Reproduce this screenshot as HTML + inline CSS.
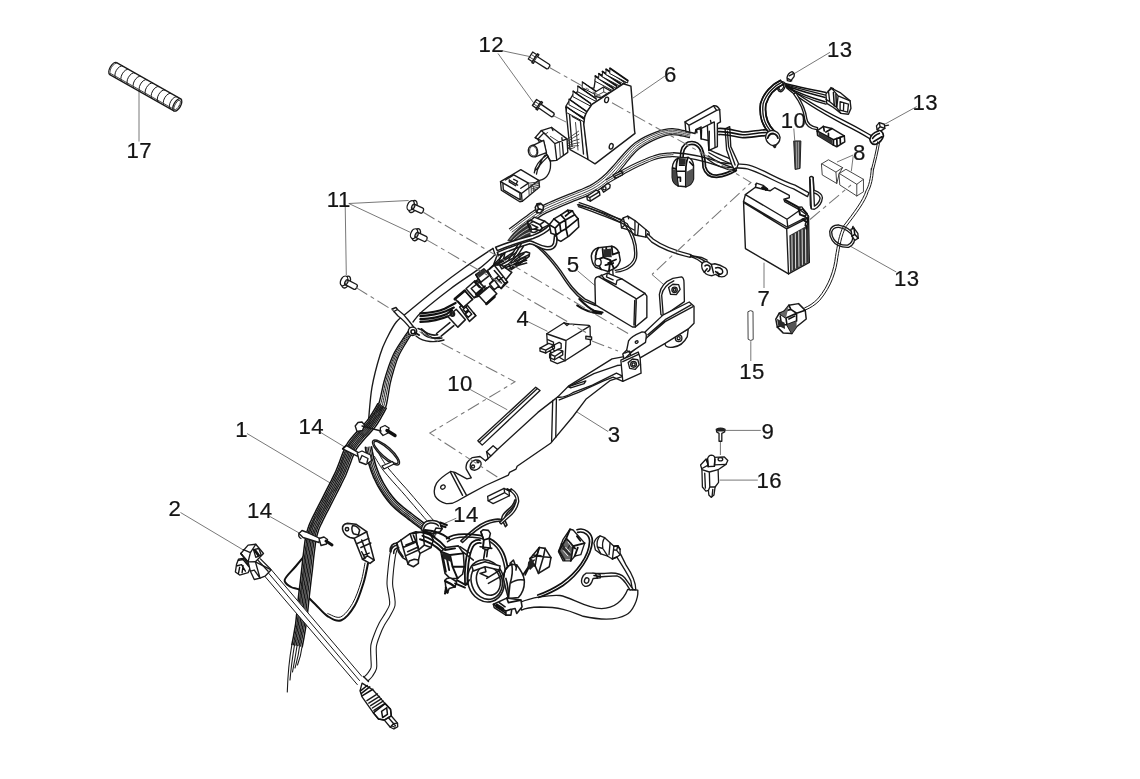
<!DOCTYPE html>
<html lang="en">
<head>
<meta charset="utf-8">
<title>Electrical system - wiring harness parts diagram</title>
<style>
html,body{margin:0;padding:0;background:#fff;}
body{width:1140px;height:779px;overflow:hidden;}
svg{display:block;filter:blur(.38px);}
.lbl text{font-family:"Liberation Sans",Arial,sans-serif;font-size:22.2px;letter-spacing:.4px;fill:#141414;stroke:#141414;stroke-width:.22px;}
.ld{stroke:#555;stroke-width:.8;fill:none;}
.dd{stroke:#777;stroke-width:1.05;fill:none;stroke-dasharray:13 4 4 4;}
.o{stroke:#1a1a1a;stroke-width:1.35;fill:none;stroke-linejoin:round;stroke-linecap:round;}
.of{stroke:#1a1a1a;stroke-width:1.35;fill:#fff;stroke-linejoin:round;stroke-linecap:round;}
.t{stroke:#333;stroke-width:.9;fill:none;stroke-linejoin:round;stroke-linecap:round;}
.tf{stroke:#333;stroke-width:.9;fill:#fff;stroke-linejoin:round;stroke-linecap:round;}
.h{stroke:#111;stroke-width:1.8;fill:none;stroke-linejoin:round;stroke-linecap:round;}
.k{fill:#222;stroke:none;}
#h10 .o,#h10 .of,#h03a .o,#h03a .of,#h07 .o,#h07 .of,#h02 .o,#h02 .of{stroke-width:1.55;}
.o,.of,.t,.tf,.h,.ld,.dd,.w,.wf{vector-effect:non-scaling-stroke;}
.w{stroke:#1a1a1a;stroke-width:1.1;fill:none;stroke-linejoin:round;stroke-linecap:round;}
</style>
</head>
<body>
<svg width="1140" height="779" viewBox="0 0 1140 779">
<rect width="1140" height="779" fill="#fff"/>


<!--LEADERS-->
<g id="leaders">
<path class="ld" d="M139 89V141.5"/>
<path class="ld" d="M502 50.7L529.5 56.5M498 53.5L533.5 102.7"/>
<path class="ld" d="M665 76L633 98"/>
<path class="ld" d="M830 52.3L794.3 73.6"/>
<path class="ld" d="M916.7 106.6L883.2 125.1"/>
<path class="ld" d="M793.8 128.5L794.7 140"/>
<path class="ld" d="M853.2 155L837 162M853.2 156L851.3 171.3"/>
<path class="ld" d="M764 262.7V288"/>
<path class="ld" d="M750.8 341.2V361"/>
<path class="ld" d="M896.3 272L850 246"/>
<path class="ld" d="M608.2 431.6L577 412"/>
<path class="ld" d="M470.2 389.5L507.3 409.8"/>
<path class="ld" d="M725 430.4H760.8"/>
<path class="ld" d="M719.7 480.1H757.8"/>
<path class="ld" d="M247 433.5L332.4 484.3"/>
<path class="ld" d="M320.4 432.3L346.3 448"/>
<path class="ld" d="M270.1 516.6L300.1 533.5"/>
<path class="ld" d="M180.5 512.5L243.5 550.1"/>
<path class="ld" d="M456.3 518.2L444.5 523.4"/>
<path class="ld" d="M577.6 270.8L594.7 285.3"/>
<path class="ld" d="M528.9 322.1L547.4 331.3"/>
</g>

<!-- h01 -->
<g id="h01">
<path d="M493.0 248.4C488.3 251.6 474.1 260.8 464.7 267.5C455.3 274.2 445.9 281.3 436.5 288.7C427.1 296.1 412.8 308.1 408.0 312.0L413.0 322.0C414.6 320.2 416.1 316.9 422.4 311.3C428.7 305.8 441.2 295.8 450.6 288.7C460.0 281.6 471.5 274.5 478.9 268.9C486.3 263.2 492.4 257.1 495.1 254.8Z" fill="#fff" stroke="none"/>
<path class="o" d="M493.0 248.4C488.3 251.6 474.1 260.8 464.7 267.5C455.3 274.2 445.9 281.3 436.5 288.7C427.1 296.1 414.7 306.4 408.0 312.0C401.3 317.6 399.8 317.7 396.3 322.0C392.8 326.3 389.7 332.6 387.0 338.0C384.3 343.4 382.6 346.5 380.1 354.7C377.6 362.9 373.9 376.3 372.0 387.1C370.1 397.9 369.2 414.1 368.6 419.5"/>
<path class="o" d="M495.1 254.8C492.4 257.1 486.3 263.2 478.9 268.9C471.5 274.5 460.0 281.6 450.6 288.7C441.2 295.8 428.7 305.8 422.4 311.3C416.1 316.9 414.6 320.2 413.0 322.0"/>
<path class="o" d="M493 248.4L495.1 254.8"/>
<path d="M397.5 549.2C397.4 549.5 397.0 549.9 396.6 551.1C396.2 552.3 395.8 553.4 395.3 556.4C394.8 559.5 394.1 564.9 393.6 569.5C393.2 574.0 392.5 579.7 392.6 583.9C392.7 588.1 393.9 591.1 394.3 594.7C394.7 598.3 395.7 602.0 395.0 605.5C394.3 609.1 391.9 612.6 390.1 616.0C388.3 619.3 385.9 622.3 384.2 625.6C382.4 628.9 380.9 632.5 379.6 636.0C378.3 639.4 376.9 642.8 376.4 646.4C375.9 650.0 376.5 653.9 376.5 657.6C376.5 661.3 377.2 665.5 376.5 668.6C375.8 671.7 373.6 674.4 372.2 676.5C370.8 678.5 368.7 680.2 368.0 680.9L364.0 677.1C364.6 676.4 366.4 674.9 367.6 673.3C368.8 671.6 370.5 670.0 371.1 667.4C371.6 664.8 370.9 661.3 370.9 657.7C370.8 654.1 370.3 649.5 370.8 645.6C371.4 641.6 373.0 637.8 374.4 634.0C375.8 630.2 377.4 626.5 379.2 623.0C381.0 619.5 383.5 616.3 385.2 613.3C386.9 610.2 389.0 607.4 389.6 604.5C390.1 601.5 389.2 598.8 388.8 595.4C388.3 592.0 387.1 588.5 387.0 584.1C386.9 579.7 387.6 573.7 388.1 568.9C388.5 564.2 389.2 558.8 389.7 555.6C390.3 552.3 390.8 550.9 391.2 549.4C391.7 548.0 392.3 547.2 392.5 546.8Z" fill="#fff" stroke="none"/><path class="o" style="stroke-width:1.1" d="M397.5 549.2C397.4 549.5 397.0 549.9 396.6 551.1C396.2 552.3 395.8 553.4 395.3 556.4C394.8 559.5 394.1 564.9 393.6 569.5C393.2 574.0 392.5 579.7 392.6 583.9C392.7 588.1 393.9 591.1 394.3 594.7C394.7 598.3 395.7 602.0 395.0 605.5C394.3 609.1 391.9 612.6 390.1 616.0C388.3 619.3 385.9 622.3 384.2 625.6C382.4 628.9 380.9 632.5 379.6 636.0C378.3 639.4 376.9 642.8 376.4 646.4C375.9 650.0 376.5 653.9 376.5 657.6C376.5 661.3 377.2 665.5 376.5 668.6C375.8 671.7 373.6 674.4 372.2 676.5C370.8 678.5 368.7 680.2 368.0 680.9M392.5 546.8C392.3 547.2 391.7 548.0 391.2 549.4C390.8 550.9 390.3 552.3 389.7 555.6C389.2 558.8 388.5 564.2 388.1 568.9C387.6 573.7 386.9 579.7 387.0 584.1C387.1 588.5 388.3 592.0 388.8 595.4C389.2 598.8 390.1 601.5 389.6 604.5C389.0 607.4 386.9 610.2 385.2 613.3C383.5 616.3 381.0 619.5 379.2 623.0C377.4 626.5 375.8 630.2 374.4 634.0C373.0 637.8 371.4 641.6 370.8 645.6C370.3 649.5 370.8 654.1 370.9 657.7C370.9 661.3 371.6 664.8 371.1 667.4C370.5 670.0 368.8 671.6 367.6 673.3C366.4 674.9 364.6 676.4 364.0 677.1"/>
<path class="o" d="M363.5 676.5L368.5 681.5"/>
<path class="h" style="stroke-width:2" d="M309.0 550.0C306.8 552.7 300.1 561.0 296.0 566.0C291.9 571.0 285.5 576.4 284.7 579.9C283.9 583.4 288.3 585.2 291.0 587.0C293.7 588.8 296.9 587.8 300.9 590.6C304.9 593.4 310.5 599.7 315.0 604.0C319.5 608.3 323.4 613.6 327.8 616.3C332.2 619.0 336.8 622.1 341.3 620.3C345.8 618.5 351.1 611.7 354.8 605.5C358.5 599.3 361.3 590.0 363.5 583.0C365.7 576.0 367.2 566.8 368.0 563.5"/>
<path class="o" style="stroke-width:1" d="M327.8 613.5C329.9 614.1 336.4 618.7 340.5 617.0C344.6 615.3 349.1 609.3 352.5 603.5C355.9 597.7 358.9 588.8 361.0 582.0C363.1 575.2 364.3 566.2 365.0 563.0"/>
<path d="M412.7 332.1C411.6 333.8 408.5 338.4 406.2 342.3C403.9 346.3 400.7 351.3 398.7 355.8C396.6 360.4 395.3 365.0 393.9 369.5C392.5 374.1 391.2 378.9 390.2 383.3C389.3 387.6 388.9 391.6 388.1 395.6C387.3 399.6 387.0 403.6 385.6 407.4C384.2 411.2 381.5 415.4 379.7 418.6C377.9 421.8 375.5 425.2 374.6 426.5L367.4 421.5C368.2 420.3 370.8 417.1 372.7 414.3C374.5 411.5 377.0 408.0 378.4 404.6C379.9 401.2 380.3 397.9 381.2 394.1C382.1 390.3 382.8 386.1 384.0 381.7C385.2 377.3 386.7 372.4 388.3 367.7C390.0 363.0 391.6 358.2 393.9 353.6C396.3 348.9 399.7 343.8 402.3 339.9C404.8 335.9 408.1 331.5 409.3 329.9Z" fill="#fff" stroke="none"/><path class="o" style="stroke-width:1.4;stroke:#111" d="M412.7 332.1C411.6 333.8 408.5 338.4 406.2 342.3C403.9 346.3 400.7 351.3 398.7 355.8C396.6 360.4 395.3 365.0 393.9 369.5C392.5 374.1 391.2 378.9 390.2 383.3C389.3 387.6 388.9 391.6 388.1 395.6C387.3 399.6 387.0 403.6 385.6 407.4C384.2 411.2 381.5 415.4 379.7 418.6C377.9 421.8 375.5 425.2 374.6 426.5M409.3 329.9C408.1 331.5 404.8 335.9 402.3 339.9C399.7 343.8 396.3 348.9 393.9 353.6C391.6 358.2 390.0 363.0 388.3 367.7C386.7 372.4 385.2 377.3 384.0 381.7C382.8 386.1 382.1 390.3 381.2 394.1C380.3 397.9 379.9 401.2 378.4 404.6C377.0 408.0 374.5 411.5 372.7 414.3C370.8 417.1 368.2 420.3 367.4 421.5"/>
<path class="w" style="stroke-width:1;stroke:#222" d="M411.8 331.5C410.7 333.2 407.5 337.7 405.1 341.7C402.7 345.6 399.5 350.7 397.4 355.2C395.3 359.8 393.8 364.4 392.4 369.0C390.9 373.6 389.6 378.5 388.5 382.9C387.5 387.2 387.1 391.2 386.2 395.2C385.4 399.2 385.0 402.9 383.6 406.6C382.2 410.3 379.6 414.4 377.8 417.5C376.0 420.5 373.5 423.9 372.7 425.1M410.9 331.0C409.8 332.6 406.6 337.1 404.1 341.1C401.7 345.0 398.4 350.1 396.2 354.7C394.0 359.2 392.5 363.9 391.0 368.6C389.4 373.2 388.0 378.1 387.0 382.5C385.9 386.8 385.4 390.9 384.5 394.8C383.7 398.7 383.3 402.4 381.9 405.9C380.4 409.5 377.9 413.4 376.0 416.4C374.2 419.4 371.7 422.6 370.8 423.9M410.2 330.4C409.0 332.1 405.7 336.6 403.2 340.5C400.7 344.5 397.4 349.5 395.1 354.1C392.9 358.7 391.3 363.5 389.7 368.2C388.1 372.8 386.7 377.7 385.5 382.1C384.4 386.5 383.8 390.6 382.9 394.5C382.1 398.4 381.6 401.8 380.2 405.3C378.8 408.8 376.3 412.5 374.4 415.4C372.6 418.3 370.1 421.5 369.2 422.7"/>
<path d="M386.2 408.3C385.4 409.7 383.7 413.1 381.9 416.2C380.0 419.4 377.7 423.6 375.0 427.1C372.3 430.7 368.7 434.0 365.7 437.5C362.6 441.1 358.9 445.3 356.8 448.4C354.7 451.5 354.2 453.4 353.0 456.3C351.8 459.1 350.7 462.4 349.5 465.5C348.3 468.7 347.1 472.0 345.7 475.2C344.2 478.4 342.6 481.6 341.1 484.7C339.6 487.8 338.0 490.9 336.4 494.0C334.8 497.0 333.3 500.1 331.7 503.2C330.1 506.3 328.5 509.6 326.8 512.7C325.2 515.9 323.5 519.2 322.1 522.1C320.7 525.1 319.5 527.3 318.5 530.2C317.5 533.2 316.6 536.6 316.0 539.7C315.4 542.7 315.2 545.4 314.8 548.7C314.3 551.9 313.9 555.5 313.5 559.1C313.1 562.8 312.7 566.5 312.3 570.6C311.8 574.7 311.2 579.3 310.7 583.8C310.2 588.3 309.6 593.0 309.1 597.6C308.6 602.2 308.2 606.9 307.7 611.4C307.2 615.9 306.8 620.4 306.1 624.7C305.5 629.1 304.6 633.9 304.0 637.6C303.3 641.3 302.5 645.4 302.2 647.0L291.8 645.0C292.1 643.5 292.9 639.4 293.6 635.8C294.2 632.1 295.1 627.5 295.7 623.3C296.2 619.0 296.6 614.7 297.1 610.2C297.6 605.8 298.0 601.0 298.5 596.4C299.0 591.8 299.6 587.1 300.2 582.6C300.7 578.1 301.3 573.5 301.7 569.4C302.2 565.3 302.5 561.6 302.9 557.9C303.4 554.3 303.8 550.7 304.2 547.3C304.7 543.9 304.9 541.0 305.6 537.5C306.3 534.1 307.3 530.1 308.5 526.8C309.6 523.4 311.0 520.7 312.5 517.6C314.0 514.5 315.8 511.1 317.4 507.9C319.0 504.7 320.7 501.5 322.3 498.4C323.9 495.3 325.4 492.2 326.9 489.2C328.5 486.1 330.1 483.0 331.6 480.0C333.1 476.9 334.6 474.0 335.9 471.0C337.3 467.9 338.4 464.9 339.6 461.7C340.8 458.6 341.8 455.3 343.2 452.1C344.6 448.9 345.6 446.0 348.0 442.4C350.4 438.9 354.6 434.3 357.8 430.7C361.0 427.1 364.4 424.1 367.0 420.9C369.6 417.6 371.7 414.0 373.5 411.1C375.3 408.2 377.1 404.9 377.8 403.7Z" fill="#fff" stroke="none"/><path class="o" style="stroke-width:1.5;stroke:#111" d="M386.2 408.3C385.4 409.7 383.7 413.1 381.9 416.2C380.0 419.4 377.7 423.6 375.0 427.1C372.3 430.7 368.7 434.0 365.7 437.5C362.6 441.1 358.9 445.3 356.8 448.4C354.7 451.5 354.2 453.4 353.0 456.3C351.8 459.1 350.7 462.4 349.5 465.5C348.3 468.7 347.1 472.0 345.7 475.2C344.2 478.4 342.6 481.6 341.1 484.7C339.6 487.8 338.0 490.9 336.4 494.0C334.8 497.0 333.3 500.1 331.7 503.2C330.1 506.3 328.5 509.6 326.8 512.7C325.2 515.9 323.5 519.2 322.1 522.1C320.7 525.1 319.5 527.3 318.5 530.2C317.5 533.2 316.6 536.6 316.0 539.7C315.4 542.7 315.2 545.4 314.8 548.7C314.3 551.9 313.9 555.5 313.5 559.1C313.1 562.8 312.7 566.5 312.3 570.6C311.8 574.7 311.2 579.3 310.7 583.8C310.2 588.3 309.6 593.0 309.1 597.6C308.6 602.2 308.2 606.9 307.7 611.4C307.2 615.9 306.8 620.4 306.1 624.7C305.5 629.1 304.6 633.9 304.0 637.6C303.3 641.3 302.5 645.4 302.2 647.0M377.8 403.7C377.1 404.9 375.3 408.2 373.5 411.1C371.7 414.0 369.6 417.6 367.0 420.9C364.4 424.1 361.0 427.1 357.8 430.7C354.6 434.3 350.4 438.9 348.0 442.4C345.6 446.0 344.6 448.9 343.2 452.1C341.8 455.3 340.8 458.6 339.6 461.7C338.4 464.9 337.3 467.9 335.9 471.0C334.6 474.0 333.1 476.9 331.6 480.0C330.1 483.0 328.5 486.1 326.9 489.2C325.4 492.2 323.9 495.3 322.3 498.4C320.7 501.5 319.0 504.7 317.4 507.9C315.8 511.1 314.0 514.5 312.5 517.6C311.0 520.7 309.6 523.4 308.5 526.8C307.3 530.1 306.3 534.1 305.6 537.5C304.9 541.0 304.7 543.9 304.2 547.3C303.8 550.7 303.4 554.3 302.9 557.9C302.5 561.6 302.2 565.3 301.7 569.4C301.3 573.5 300.7 578.1 300.2 582.6C299.6 587.1 299.0 591.8 298.5 596.4C298.0 601.0 297.6 605.8 297.1 610.2C296.6 614.7 296.2 619.0 295.7 623.3C295.1 627.5 294.2 632.1 293.6 635.8C292.9 639.4 292.1 643.5 291.8 645.0"/>
<path class="w" style="stroke-width:1.25;stroke:#1a1a1a" d="M384.8 407.6C384.1 408.9 382.4 412.3 380.5 415.4C378.7 418.5 376.4 422.6 373.7 426.1C371.0 429.6 367.5 432.9 364.4 436.4C361.4 440.0 357.5 444.2 355.4 447.4C353.2 450.6 352.6 452.7 351.4 455.6C350.2 458.5 349.1 461.8 347.9 464.9C346.7 468.1 345.5 471.4 344.1 474.5C342.7 477.7 341.1 480.8 339.6 483.9C338.0 487.0 336.4 490.1 334.9 493.2C333.3 496.3 331.8 499.3 330.2 502.4C328.6 505.6 326.9 508.8 325.3 512.0C323.7 515.1 321.9 518.5 320.5 521.4C319.1 524.4 317.9 526.7 316.9 529.7C315.9 532.7 315.0 536.2 314.3 539.3C313.7 542.5 313.5 545.2 313.1 548.5C312.6 551.7 312.2 555.3 311.8 558.9C311.4 562.6 311.0 566.3 310.6 570.4C310.1 574.5 309.5 579.1 309.0 583.6C308.5 588.1 307.9 592.8 307.4 597.4C306.9 602.0 306.5 606.7 306.0 611.2C305.5 615.7 305.1 620.1 304.5 624.5C303.9 628.9 303.0 633.6 302.3 637.3C301.7 641.0 300.8 645.1 300.5 646.7M383.6 406.9C382.9 408.2 381.2 411.6 379.3 414.7C377.5 417.7 375.3 421.8 372.6 425.2C369.9 428.7 366.4 431.9 363.3 435.5C360.2 439.0 356.3 443.3 354.1 446.6C351.9 449.8 351.3 452.0 350.0 455.0C348.8 458.0 347.7 461.2 346.5 464.4C345.3 467.5 344.1 470.8 342.7 473.9C341.3 477.1 339.8 480.2 338.2 483.3C336.7 486.4 335.1 489.4 333.5 492.5C332.0 495.6 330.5 498.6 328.9 501.8C327.3 504.9 325.6 508.1 324.0 511.3C322.4 514.5 320.6 517.8 319.2 520.8C317.8 523.8 316.5 526.1 315.5 529.2C314.4 532.2 313.5 535.8 312.9 539.0C312.2 542.2 312.0 545.0 311.6 548.3C311.2 551.6 310.7 555.1 310.3 558.8C309.9 562.4 309.5 566.1 309.1 570.2C308.6 574.3 308.0 578.9 307.5 583.4C307.0 587.9 306.4 592.6 305.9 597.2C305.4 601.8 305.0 606.5 304.5 611.0C304.0 615.5 303.6 620.0 303.0 624.3C302.4 628.6 301.5 633.4 300.8 637.1C300.2 640.7 299.4 644.8 299.1 646.4M382.5 406.3C381.7 407.5 380.0 410.9 378.1 414.0C376.3 417.0 374.1 420.9 371.5 424.4C368.8 427.8 365.3 430.9 362.2 434.5C359.1 438.0 355.2 442.4 352.9 445.7C350.6 449.1 349.9 451.4 348.6 454.4C347.4 457.4 346.3 460.7 345.1 463.8C343.9 467.0 342.7 470.2 341.3 473.3C340.0 476.5 338.4 479.5 336.9 482.6C335.4 485.7 333.8 488.8 332.2 491.8C330.6 494.9 329.1 497.9 327.5 501.1C325.9 504.2 324.3 507.4 322.7 510.6C321.0 513.8 319.3 517.1 317.8 520.1C316.4 523.1 315.1 525.6 314.1 528.7C313.0 531.8 312.1 535.5 311.4 538.7C310.7 542.0 310.5 544.8 310.1 548.1C309.7 551.4 309.2 554.9 308.8 558.6C308.4 562.3 308.1 566.0 307.6 570.1C307.1 574.2 306.6 578.8 306.0 583.3C305.5 587.8 304.9 592.5 304.4 597.1C303.9 601.7 303.5 606.4 303.0 610.9C302.5 615.4 302.1 619.8 301.5 624.1C300.9 628.4 300.0 633.1 299.4 636.8C298.7 640.5 297.9 644.6 297.6 646.1M381.3 405.6C380.6 406.9 378.8 410.2 376.9 413.2C375.1 416.2 373.0 420.1 370.3 423.5C367.7 426.9 364.2 429.9 361.1 433.5C358.0 437.1 354.0 441.5 351.7 444.9C349.4 448.3 348.6 450.7 347.3 453.8C345.9 456.9 344.9 460.2 343.7 463.3C342.5 466.5 341.3 469.6 340.0 472.7C338.6 475.8 337.1 478.9 335.5 481.9C334.0 485.0 332.4 488.1 330.9 491.2C329.3 494.2 327.8 497.3 326.2 500.4C324.6 503.5 322.9 506.7 321.3 509.9C319.7 513.1 317.9 516.4 316.5 519.5C315.0 522.5 313.7 525.0 312.6 528.2C311.6 531.4 310.6 535.1 309.9 538.4C309.3 541.7 309.0 544.5 308.6 547.9C308.2 551.2 307.7 554.8 307.3 558.4C306.9 562.1 306.6 565.8 306.1 569.9C305.6 574.0 305.1 578.6 304.5 583.1C304.0 587.6 303.4 592.3 302.9 596.9C302.4 601.5 302.0 606.2 301.5 610.7C301.0 615.2 300.6 619.6 300.0 623.9C299.4 628.2 298.5 632.9 297.9 636.5C297.2 640.2 296.4 644.3 296.1 645.8M380.1 404.9C379.4 406.2 377.6 409.6 375.8 412.5C373.9 415.4 371.8 419.2 369.2 422.6C366.6 425.9 363.1 429.0 359.9 432.5C356.8 436.1 352.8 440.6 350.4 444.1C348.1 447.5 347.2 450.1 345.9 453.2C344.5 456.3 343.5 459.6 342.3 462.8C341.1 465.9 340.0 469.1 338.6 472.1C337.2 475.2 335.7 478.2 334.2 481.3C332.7 484.3 331.1 487.4 329.5 490.5C328.0 493.6 326.4 496.6 324.9 499.7C323.3 502.8 321.6 506.1 320.0 509.2C318.4 512.4 316.6 515.8 315.1 518.8C313.7 521.9 312.3 524.5 311.2 527.7C310.1 530.9 309.1 534.8 308.5 538.1C307.8 541.5 307.6 544.3 307.1 547.7C306.7 551.0 306.2 554.6 305.8 558.3C305.4 561.9 305.1 565.6 304.6 569.7C304.2 573.8 303.6 578.4 303.0 582.9C302.5 587.4 301.9 592.1 301.4 596.7C300.9 601.3 300.5 606.1 300.0 610.6C299.5 615.0 299.1 619.4 298.5 623.7C297.9 628.0 297.1 632.6 296.4 636.3C295.8 639.9 294.9 644.0 294.6 645.6M379.0 404.3C378.3 405.6 376.5 408.9 374.7 411.8C372.8 414.7 370.8 418.5 368.1 421.8C365.5 425.1 362.1 428.0 358.9 431.6C355.8 435.2 351.6 439.8 349.3 443.3C346.9 446.8 346.0 449.5 344.6 452.7C343.2 455.8 342.2 459.1 341.0 462.3C339.8 465.4 338.7 468.5 337.3 471.6C336.0 474.6 334.5 477.6 332.9 480.6C331.4 483.7 329.8 486.8 328.3 489.8C326.7 492.9 325.2 496.0 323.6 499.1C322.0 502.2 320.4 505.4 318.7 508.6C317.1 511.8 315.3 515.1 313.9 518.2C312.4 521.4 311.0 524.0 309.9 527.3C308.8 530.5 307.8 534.5 307.1 537.8C306.4 541.2 306.2 544.1 305.7 547.5C305.3 550.9 304.8 554.4 304.4 558.1C304.0 561.8 303.7 565.5 303.2 569.6C302.8 573.7 302.2 578.2 301.7 582.7C301.1 587.2 300.5 592.0 300.0 596.6C299.5 601.2 299.1 605.9 298.6 610.4C298.1 614.9 297.7 619.2 297.1 623.5C296.5 627.7 295.7 632.4 295.0 636.0C294.4 639.7 293.6 643.7 293.3 645.3"/>
<path d="M291.5 645L302.5 647L299 662L293 668L289 690L288 672L291 658Z" fill="#fff"/>
<path class="w" d="M292 644C290 655 288 668 287.3 692M294.5 645C292.5 657 291 668 290 680M297 646C295.5 656 294 664 292.5 672M299.5 646.5C298.5 656 296.5 662 295 668M302 647C301 655 299.5 660 297.5 665"/>
</g>
<!-- h015 -->
<g id="h015">
<path d="M379.0 453.9C379.6 454.8 380.9 457.3 382.4 459.6C383.8 461.9 385.5 464.7 387.9 467.7C390.2 470.7 393.4 474.2 396.4 477.7C399.3 481.1 402.8 484.9 405.8 488.2C408.7 491.5 411.3 494.6 413.9 497.6C416.4 500.6 418.8 503.4 421.2 506.1C423.5 508.9 426.1 511.8 428.0 514.1C430.0 516.4 432.1 518.8 433.0 519.8L429.0 523.2C428.2 522.2 426.1 519.7 424.1 517.5C422.1 515.2 419.6 512.2 417.2 509.5C414.9 506.7 412.5 504.0 409.9 501.0C407.4 498.0 404.8 494.9 401.8 491.6C398.9 488.3 395.5 484.5 392.4 481.1C389.4 477.6 386.2 474.0 383.7 470.9C381.3 467.8 379.5 464.8 378.0 462.4C376.5 460.0 375.1 457.5 374.6 456.5Z" fill="#fff" stroke="none"/><path class="o" style="stroke-width:1" d="M379.0 453.9C379.6 454.8 380.9 457.3 382.4 459.6C383.8 461.9 385.5 464.7 387.9 467.7C390.2 470.7 393.4 474.2 396.4 477.7C399.3 481.1 402.8 484.9 405.8 488.2C408.7 491.5 411.3 494.6 413.9 497.6C416.4 500.6 418.8 503.4 421.2 506.1C423.5 508.9 426.1 511.8 428.0 514.1C430.0 516.4 432.1 518.8 433.0 519.8M374.6 456.5C375.1 457.5 376.5 460.0 378.0 462.4C379.5 464.8 381.3 467.8 383.7 470.9C386.2 474.0 389.4 477.6 392.4 481.1C395.5 484.5 398.9 488.3 401.8 491.6C404.8 494.9 407.4 498.0 409.9 501.0C412.5 504.0 414.9 506.7 417.2 509.5C419.6 512.2 422.1 515.2 424.1 517.5C426.1 519.7 428.2 522.2 429.0 523.2"/>
<path d="M371.6 446.7C371.6 446.9 371.6 447.3 371.7 448.1C371.9 448.9 372.0 449.8 372.3 451.4C372.7 453.0 373.1 455.4 373.7 457.8C374.3 460.3 375.0 463.1 375.9 465.8C376.8 468.6 377.9 471.4 379.1 474.3C380.4 477.2 381.7 480.2 383.4 483.2C385.1 486.2 387.1 489.3 389.1 492.2C391.2 495.1 393.5 498.1 395.8 500.6C398.1 503.1 400.5 505.0 403.0 507.1C405.5 509.2 408.2 511.0 410.8 513.0C413.4 515.1 416.2 517.3 418.7 519.2C421.2 521.1 423.7 523.0 426.0 524.5C428.4 526.1 430.8 527.5 432.7 528.6C434.6 529.7 436.7 530.8 437.5 531.3L434.5 536.7C433.7 536.2 431.5 535.1 429.5 533.9C427.6 532.8 425.0 531.3 422.6 529.7C420.1 528.0 417.6 526.1 415.0 524.1C412.4 522.2 409.7 520.0 407.0 518.0C404.4 515.9 401.7 514.1 399.1 511.9C396.4 509.7 393.7 507.5 391.2 504.8C388.7 502.1 386.3 498.9 384.1 495.8C381.9 492.7 379.8 489.4 378.0 486.2C376.2 483.0 374.8 479.8 373.4 476.8C372.1 473.7 371.0 470.7 370.1 467.8C369.1 464.9 368.3 461.9 367.7 459.3C367.1 456.8 366.6 454.3 366.3 452.6C365.9 450.9 365.7 449.9 365.6 449.1C365.5 448.2 365.4 447.6 365.4 447.3Z" fill="#fff" stroke="none"/><path class="o" style="stroke-width:1.6;stroke:#111" d="M371.6 446.7C371.6 446.9 371.6 447.3 371.7 448.1C371.9 448.9 372.0 449.8 372.3 451.4C372.7 453.0 373.1 455.4 373.7 457.8C374.3 460.3 375.0 463.1 375.9 465.8C376.8 468.6 377.9 471.4 379.1 474.3C380.4 477.2 381.7 480.2 383.4 483.2C385.1 486.2 387.1 489.3 389.1 492.2C391.2 495.1 393.5 498.1 395.8 500.6C398.1 503.1 400.5 505.0 403.0 507.1C405.5 509.2 408.2 511.0 410.8 513.0C413.4 515.1 416.2 517.3 418.7 519.2C421.2 521.1 423.7 523.0 426.0 524.5C428.4 526.1 430.8 527.5 432.7 528.6C434.6 529.7 436.7 530.8 437.5 531.3M365.4 447.3C365.4 447.6 365.5 448.2 365.6 449.1C365.7 449.9 365.9 450.9 366.3 452.6C366.6 454.3 367.1 456.8 367.7 459.3C368.3 461.9 369.1 464.9 370.1 467.8C371.0 470.7 372.1 473.7 373.4 476.8C374.8 479.8 376.2 483.0 378.0 486.2C379.8 489.4 381.9 492.7 384.1 495.8C386.3 498.9 388.7 502.1 391.2 504.8C393.7 507.5 396.4 509.7 399.1 511.9C401.7 514.1 404.4 515.9 407.0 518.0C409.7 520.0 412.4 522.2 415.0 524.1C417.6 526.1 420.1 528.0 422.6 529.7C425.0 531.3 427.6 532.8 429.5 533.9C431.5 535.1 433.7 536.2 434.5 536.7"/>
<path class="w" style="stroke-width:1.1;stroke:#222" d="M369.9 446.9C369.9 447.1 369.9 447.5 370.1 448.4C370.2 449.2 370.3 450.1 370.7 451.7C371.0 453.4 371.5 455.8 372.1 458.3C372.7 460.7 373.4 463.6 374.3 466.4C375.2 469.2 376.3 472.1 377.6 475.0C378.8 477.9 380.2 481.0 381.9 484.0C383.6 487.1 385.7 490.3 387.8 493.2C389.9 496.2 392.2 499.2 394.5 501.7C396.9 504.3 399.4 506.3 401.9 508.4C404.5 510.5 407.1 512.4 409.8 514.4C412.4 516.4 415.1 518.6 417.7 520.6C420.2 522.5 422.7 524.4 425.1 525.9C427.4 527.5 429.9 528.9 431.8 530.1C433.8 531.2 435.9 532.3 436.7 532.8M368.2 447.0C368.2 447.3 368.2 447.8 368.4 448.6C368.5 449.5 368.7 450.4 369.0 452.1C369.3 453.7 369.8 456.2 370.4 458.7C371.0 461.1 371.8 464.1 372.7 466.9C373.6 469.7 374.7 472.7 376.0 475.7C377.3 478.7 378.7 481.8 380.4 484.8C382.2 487.9 384.2 491.2 386.4 494.2C388.5 497.2 390.9 500.3 393.3 502.9C395.7 505.5 398.3 507.6 400.8 509.7C403.4 511.9 406.1 513.7 408.7 515.7C411.4 517.8 414.1 520.0 416.7 521.9C419.2 523.8 421.7 525.7 424.1 527.3C426.5 529.0 429.0 530.4 431.0 531.5C432.9 532.7 435.0 533.8 435.9 534.3M366.7 447.2C366.7 447.5 366.8 448.0 366.9 448.9C367.0 449.7 367.2 450.7 367.5 452.4C367.9 454.1 368.3 456.5 369.0 459.0C369.6 461.5 370.3 464.5 371.3 467.4C372.2 470.2 373.3 473.2 374.6 476.3C375.9 479.3 377.4 482.4 379.1 485.6C380.9 488.7 383.0 492.0 385.2 495.1C387.3 498.1 389.7 501.3 392.2 503.9C394.6 506.6 397.3 508.7 399.9 510.9C402.5 513.1 405.2 514.9 407.8 516.9C410.4 519.0 413.2 521.2 415.7 523.1C418.3 525.1 420.9 527.0 423.3 528.6C425.7 530.2 428.2 531.7 430.2 532.8C432.2 534.0 434.3 535.1 435.1 535.6"/>
</g>
<!-- h02 -->
<g id="h02" transform="translate(340 490) scale(.16684)">
<!-- small tab connector -->
<path class="of" d="M15 235Q12 205 45 200L95 205L160 250L165 268L205 420L180 440L135 415L85 290L60 285Q22 270 15 235Z"/>
<path class="o" d="M85 290L160 250M100 322L172 290M135 415L165 395L205 420M165 395L130 300M75 215Q65 235 80 262L110 270L118 240Q100 210 75 215ZM125 345L185 318"/>
<circle class="o" cx="42" cy="235" r="10"/>
<path class="h" d="M140 392L175 378M130 370L150 410" style="stroke-width:1.4"/>
<!-- clamp 14 (middle) -->
<path class="of" d="M488 240Q490 195 530 185Q580 178 600 200L612 232L600 250L560 262Z"/>
<path class="o" d="M500 240Q505 205 540 198Q575 195 590 215M560 262L575 228L612 232"/>
<path class="h" d="M600 195L640 210M605 215L632 222" style="stroke-width:2.2"/>
<!-- connector A -->
<path class="of" d="M340 318L365 300L420 262L455 250L540 262L560 300L545 345L480 380L470 420L470 440L440 460L408 445L400 420L375 405L350 370Z"/>
<path class="o" d="M340 318L355 365L378 400M365 300L378 345L460 310L455 250M378 345L392 395L470 360L460 310M392 395L400 420M470 360L480 380M420 262L440 320M408 445L415 425L445 415L470 420M500 255L505 330L545 345M505 330L470 360M395 330L450 308M405 370L462 345"/>
<path class="h" d="M432 262L500 250L545 262M440 272L470 345" style="stroke-width:1.6"/>
<!-- wires from connector A going left into white tube -->
<path class="o" d="M345 330C320 335 305 345 305 372M352 345C330 350 320 360 322 380M340 318C315 320 300 340 300 368"/>
</g>
<!-- h03 -->
<g id="h03b" transform="translate(540 510) scale(.15402)">
<!-- big white tube -->
<path class="of" d="M-130 600C-60 570 60 550 130 555C200 565 300 640 400 640C480 640 540 590 570 515L635 520C640 580 600 660 560 680C500 715 420 720 280 690C220 670 160 630 0 630C-60 632 -100 640 -120 650Z"/>
<!-- white thin tube from connector E -->
<path class="of" d="M495 300C520 340 560 400 590 460L600 518L622 518C622 480 600 420 560 360C545 330 530 300 522 285Z"/>
<!-- eyelet terminal + wire -->
<path class="of" d="M340 412L420 412C470 405 520 405 550 440L605 515L585 520C560 480 540 440 500 428L420 432L345 438Z"/>
<path class="of" d="M300 410L345 410L390 418L392 440L345 445L335 470Q320 500 290 495Q262 480 272 445Q280 420 300 410Z"/>
<ellipse class="o" cx="303" cy="458" rx="14" ry="18" transform="rotate(20 303 458)"/>
<path class="h" d="M350 425L390 432M362 415L372 442" style="stroke-width:1.4"/>
<!-- dark wire from D arcing down-left -->
<path class="h" d="M240 128C290 110 340 150 340 200C335 300 250 420 150 490C90 530 40 550 -10 568M245 145C290 135 322 165 322 205C318 300 240 405 140 476C80 515 30 538 -15 552" style="stroke-width:1.7"/>
<!-- connector D -->
<path class="of" d="M195 125L215 130L290 215L265 290L225 300L200 330L150 330L120 270L150 190Z"/>
<path class="h" d="M195 125L170 185L215 235L290 215M170 185L125 265L160 325M215 235L200 330M150 250L195 290M185 200L228 250M240 170L262 200M140 220L160 245M225 300L245 245" style="stroke-width:1.9"/>
<path class="o" d="M160 255L188 285M200 215L170 270"/><path d="M172 188L212 232L200 322L158 322L128 266Z" fill="#333" opacity=".75"/><path d="M180 205L205 238M150 262L182 300M165 240L195 275" stroke="#eee" stroke-width="1" fill="none" vector-effect="non-scaling-stroke"/>
<!-- connector E -->
<path class="of" d="M350 215Q360 180 390 168L420 180L480 235L505 232L520 255L520 290L500 305L470 318L440 300L395 285L360 260Z"/>
<path class="o" d="M390 168Q365 195 372 240L395 285M420 180Q400 210 408 250L440 300M480 235L470 318M372 240L408 250M455 215L448 290M505 232L498 262L520 290M498 262L480 258"/>
<path class="h" d="M480 235L505 232L520 255M470 318L500 305" style="stroke-width:1.5"/>
</g>
<g id="h03a" transform="translate(430 500) scale(.16684)">
<!-- white wire going up to small box -->
<path class="of" d="M195 255C240 210 300 160 340 145C380 130 420 120 440 135L452 160L462 150C445 120 440 100 470 70C500 45 515 30 520 0L508 0C505 25 490 40 462 62C430 90 425 105 432 120C410 108 370 118 335 130C290 148 230 200 185 245Z"/>
<!-- ring -->
<ellipse class="of" cx="335" cy="485" rx="108" ry="128" transform="rotate(-18 335 485)"/>
<ellipse class="o" cx="340" cy="485" rx="92" ry="112" transform="rotate(-18 340 485)"/>
<ellipse class="o" cx="350" cy="482" rx="70" ry="90" transform="rotate(-18 350 482)"/>
<path class="o" d="M285 400L330 405L335 430L300 440M340 470L420 420M350 500L430 455M300 440L345 460"/>
<path class="of" d="M250 395L330 370L420 395L415 420L330 400L260 425Z"/>
<!-- dark wires arcing over the ring -->
<path class="h" d="M100 232C140 195 220 200 300 212C380 225 430 280 450 340C465 390 470 430 480 470M210 505C205 420 215 320 240 270C255 245 280 238 300 240M225 505C222 430 232 330 255 285C268 262 285 255 305 258" style="stroke-width:1.8"/>
<path class="o" d="M105 250C150 215 220 218 295 228C370 240 415 290 435 350C448 390 452 430 462 465M170 290L260 360M180 280L240 320"/>
<!-- clip on top -->
<path class="of" d="M305 190L320 178L350 182L362 200L355 230L362 285L340 300L318 290L322 240Z"/>
<path class="h" d="M305 190L322 240L355 230M322 240L318 290M300 280L370 290M330 300L322 350M345 300L340 340" style="stroke-width:1.6"/>
<!-- dark wires A to B -->
<path class="h" style="stroke-width:2" d="M-40 195C10 205 50 235 95 285M-45 215C5 228 45 258 85 300M-30 180C30 185 75 200 115 232M-60 235C-20 245 30 270 70 310"/>
<!-- connector B -->
<path class="of" d="M65 310L95 285L170 275L200 320L205 400L195 445L165 470L120 470L90 440Z"/>
<path class="h" d="M65 310L120 330L200 320M120 330L135 400L205 400M135 400L165 470M90 300L150 290M100 345L115 420M75 330L95 430" style="stroke-width:1.9"/>
<path d="M70 312L118 330L128 372L82 352Z" fill="#222"/>
<!-- bolt below connector B -->
<path class="of" d="M90 480Q100 465 125 468L160 490L150 520L115 530L105 555L90 550L95 525Z"/>
<path class="h" d="M95 525L105 555M90 485L120 500L150 520M100 540L90 560" style="stroke-width:2.2"/>
<!-- dark base strip -->
<path class="h" d="M160 480L215 510L235 480M150 500L210 525" style="stroke-width:1.8"/>
<!-- boot -->
<path class="of" d="M440 470Q445 400 490 385L520 390Q560 440 565 480Q570 540 530 585L470 590Q455 540 440 470Z"/>
<path class="o" d="M490 385Q500 440 480 500M520 390L515 420M470 590L480 500Q520 470 565 480M480 380L500 360L515 400"/>
<path class="h" d="M440 470Q445 400 490 385M455 470Q470 520 470 590" style="stroke-width:1.6"/>
<!-- connector at bottom of boot -->
<path class="of" d="M380 625L460 588L545 600L552 640L520 680L510 650L490 655L485 690L455 690L385 645Z"/>
<path class="h" d="M380 625L455 665L485 655M455 665L455 690M460 588L470 615L545 600M400 625L440 650M415 615L450 640M395 640L450 675" style="stroke-width:1.6"/>
<!-- connector C -->
<path class="of" d="M600 350L655 285L690 290L725 345L715 400L650 440L630 395L600 385Z"/>
<path class="o" d="M600 350L630 395M655 285L640 335L680 340L690 290M640 335L630 395M680 340L725 345M680 340L650 440M618 330L665 335M625 360L605 380"/>
<path class="h" d="M600 350L640 335L655 285M570 450L600 390M560 445L590 400M600 385L630 395" style="stroke-width:1.5"/>
<path d="M588 372L612 350L625 395L600 420L585 400Z" fill="#222"/>
</g>
<!-- h04 -->
<g id="h04" transform="translate(750 60) scale(.16685)">
<!-- white tube lower-left (to hook) -->
<!-- wires clamp -> connector F -->
<path class="h" style="stroke-width:1.5" d="M200 138C280 160 380 180 455 195M205 148C290 185 380 205 450 225M210 155C290 200 380 230 450 250"/>
<path class="o" d="M200 143C285 170 380 192 452 210M215 160C300 215 380 245 455 265"/>
<!-- thick dark wire to right clamp -->
<path class="h" style="stroke-width:1.35" d="M215 148C300 222 420 292 560 362C640 402 690 432 725 452M220 168C308 243 423 313 558 384C638 424 683 449 718 472"/>
<!-- thin wire to connector G -->
<path class="of" d="M275 195C310 250 335 300 340 350Q345 395 405 405L405 418Q335 412 328 355C322 300 300 255 262 205Z"/>
<!-- connector F -->
<path class="of" d="M455 205L470 185L490 170L540 195L600 245L605 290L590 325L545 320L500 285L460 260Z"/>
<path class="o" d="M470 185L478 250L520 285L545 320M478 250L455 235M520 285L528 215L490 170M528 215L600 245M540 250L590 265L585 312L540 300ZM562 258L560 305M475 180L485 165L500 172"/>
<path class="h" style="stroke-width:1.5" d="M500 195L505 275M515 205L518 280"/>
<!-- connector G -->
<path class="of" d="M402 425L440 398L490 410L565 455L568 490L520 520L500 510L405 452Z" style="stroke-width:1.5"/>
<path class="h" style="stroke-width:1.7" d="M402 425L500 478L565 455M500 478L500 510M440 398L445 425M455 432L490 412M470 440L470 470M520 470L522 515M540 462L542 502"/>
<path d="M410 432L495 480L495 505L410 455Z" fill="#333"/>
<!-- part 10 upper strip -->
<path d="M262 485L305 485L300 650L270 656Z" fill="#444" stroke="#222" stroke-width="1" vector-effect="non-scaling-stroke"/>
<path d="M277 490L280 650M290 490L290 648" stroke="#ccc" stroke-width=".7" fill="none" vector-effect="non-scaling-stroke"/>
<!-- part 8 blocks -->
<path class="tf" d="M430 622L470 598L555 645L535 680L520 740L435 690Z"/>
<path class="t" d="M430 622L515 672L555 645M515 672L520 740"/>
<path class="tf" d="M535 680L575 655L680 715L680 790L640 815L540 750Z"/>
<path class="t" d="M535 680L640 745L680 715M640 745L640 815"/>
<!-- clamp 13 top -->
<path class="of" d="M222 105Q228 78 252 70Q270 78 264 100L242 128L224 124Z"/>
<path class="o" d="M235 95L262 80M225 110L250 125"/>
<path class="of" d="M165 165Q165 135 195 130Q215 135 210 160Q200 190 180 190Q165 185 165 165Z"/>
<ellipse class="o" cx="188" cy="162" rx="12" ry="20" transform="rotate(30 188 162)"/>
<!-- clamp 13 right -->
<path class="of" d="M758 395L775 375L805 385L808 410L785 425L762 418Z"/>
<path class="o" d="M775 375L780 400L808 410M780 400L762 418M808 395L830 390"/>
<path class="h" style="stroke-width:1.6" d="M770 425Q725 440 718 475Q725 510 755 505Q790 490 800 455Q798 435 785 425M735 470Q745 450 775 440M740 490L790 460"/>
<!-- long wire down from right clamp -->
<path class="o" style="stroke-width:1" d="M765 490C755 550 740 610 728 655M778 487C768 550 752 612 740 658"/>
</g>
<!-- h05 -->
<g id="h05" transform="translate(760 190) scale(.19257)">
<!-- long wire -->
<path class="o" style="stroke-width:1" d="M578 -112C575 -60 565 -20 550 5C535 55 485 120 435 185C410 230 402 290 392 345C385 410 360 495 300 565C275 590 255 602 232 612M589 -110C587 -60 577 -20 562 8C547 60 497 125 447 190C422 235 414 295 404 350C397 415 372 500 310 573C285 598 262 612 238 622"/>
<!-- clamp loop -->
<path class="o" d="M362 215Q370 180 410 182Q470 195 490 235Q500 280 460 298Q400 300 375 262Q360 240 362 215ZM372 218Q380 192 410 194Q462 206 480 240Q486 272 455 286Q405 288 384 256Q372 238 372 218Z"/>
<path class="of" d="M472 205L488 198L508 225L510 250L492 262L478 240Z"/>
<path class="h" style="stroke-width:1.5" d="M488 198L492 230L510 250M492 230L478 240M480 200L483 190"/>
<!-- end connector -->
<path class="of" style="stroke-width:1.5" d="M82 670L100 640L125 630L150 598L200 590L235 625L240 670L190 710L165 745L120 742L90 712Z"/>
<path class="h" style="stroke-width:1.6" d="M100 640L135 665L190 640L235 625M135 665L140 700L190 680L190 640M140 700L165 745M90 712L120 700L140 700M125 630L160 620L150 598M160 620L190 640M105 655L110 690M150 670L180 655"/>
<path d="M88 668L128 690L130 722L95 705Z" fill="#2a2a2a"/><path d="M140 700L190 680L190 710L165 745Z" fill="#555"/><path d="M102 642L135 665L150 600L127 630Z" fill="#666"/>
</g>
<g id="p15">
<path class="of" d="M748.2 311.5Q750.6 309.6 753 311.5L753.2 339.5Q750.7 341.6 748.4 339.5Z" style="stroke-width:1;stroke:#444"/>
</g>
<g id="p09" transform="translate(580 390) scale(.23095)">
<path class="of" d="M590 170Q608 160 628 170L626 182L614 188L614 222L602 222L602 188L592 182Z" style="stroke-width:1.3"/>
<path class="k" d="M590 170Q608 160 628 170L626 180L592 180Z"/>
<!-- switch 16 -->
<path class="of" d="M522 325L545 300L580 292L625 290L640 305L632 322L598 345L600 400L585 420L580 455L568 465L558 455L556 435L545 438L530 420L528 345Z" style="stroke-width:1.3"/>
<path class="o" d="M528 345L560 355L598 345M560 355L562 420L585 420M562 420L556 435M545 300L555 325L528 340M555 325L632 322M540 360L543 425M575 430L572 460"/>
<path class="of" d="M552 300Q555 282 570 282Q585 284 584 300L582 330L555 332Z"/>
<path class="h" style="stroke-width:1.5" d="M552 300L555 332M584 300L582 330"/>
<ellipse class="o" cx="608" cy="300" rx="10" ry="7"/>
</g>
<!-- h06 -->
<g id="h06">
<path d="M509.5 228.7C510.7 227.8 513.9 225.4 516.6 223.4C519.3 221.4 522.9 218.7 525.6 216.7C528.3 214.7 530.1 213.2 532.8 211.5C535.4 209.7 537.8 208.0 541.5 206.2C545.2 204.3 550.3 202.1 554.8 200.1C559.4 198.1 564.5 196.0 568.8 194.3C573.0 192.6 576.7 191.3 580.2 189.9C583.7 188.4 587.0 187.1 590.0 185.6C592.9 184.0 595.5 182.3 598.0 180.5C600.5 178.6 602.8 176.8 605.2 174.5C607.6 172.3 610.0 169.6 612.3 167.0C614.7 164.4 617.1 161.5 619.5 158.8C621.9 156.1 624.1 153.4 626.6 150.8C629.1 148.2 631.6 145.5 634.6 143.2C637.7 140.9 641.5 138.8 644.9 136.9C648.4 135.1 652.1 133.5 655.3 132.3C658.5 131.1 661.2 130.2 664.1 129.6C667.0 129.0 669.6 128.6 672.8 128.7C675.9 128.9 679.9 129.8 682.9 130.4C685.9 131.0 689.3 132.1 690.6 132.4L689.4 137.6C688.1 137.3 684.6 136.4 681.8 135.9C679.0 135.4 675.4 134.7 672.6 134.7C669.9 134.6 667.9 135.0 665.4 135.6C662.9 136.3 660.6 137.1 657.7 138.3C654.8 139.5 651.3 141.1 648.2 142.9C645.0 144.6 641.7 146.6 639.0 148.8C636.3 150.9 634.2 153.3 631.9 155.8C629.7 158.3 627.6 161.0 625.3 163.8C623.0 166.5 620.7 169.5 618.3 172.3C615.9 175.0 613.4 178.0 610.8 180.5C608.3 182.9 605.6 185.1 602.8 187.1C600.0 189.2 597.1 191.1 593.8 192.8C590.6 194.5 587.0 195.9 583.3 197.4C579.7 199.0 576.0 200.2 571.8 201.9C567.6 203.6 562.5 205.7 558.1 207.6C553.7 209.6 548.7 211.7 545.3 213.4C541.8 215.2 539.8 216.7 537.3 218.3C534.8 219.9 533.1 221.4 530.4 223.3C527.8 225.2 524.2 227.9 521.5 229.9C518.8 231.9 515.7 234.4 514.5 235.3Z" fill="#fff" stroke="none"/><path class="o" style="stroke-width:1.3" d="M509.5 228.7C510.7 227.8 513.9 225.4 516.6 223.4C519.3 221.4 522.9 218.7 525.6 216.7C528.3 214.7 530.1 213.2 532.8 211.5C535.4 209.7 537.8 208.0 541.5 206.2C545.2 204.3 550.3 202.1 554.8 200.1C559.4 198.1 564.5 196.0 568.8 194.3C573.0 192.6 576.7 191.3 580.2 189.9C583.7 188.4 587.0 187.1 590.0 185.6C592.9 184.0 595.5 182.3 598.0 180.5C600.5 178.6 602.8 176.8 605.2 174.5C607.6 172.3 610.0 169.6 612.3 167.0C614.7 164.4 617.1 161.5 619.5 158.8C621.9 156.1 624.1 153.4 626.6 150.8C629.1 148.2 631.6 145.5 634.6 143.2C637.7 140.9 641.5 138.8 644.9 136.9C648.4 135.1 652.1 133.5 655.3 132.3C658.5 131.1 661.2 130.2 664.1 129.6C667.0 129.0 669.6 128.6 672.8 128.7C675.9 128.9 679.9 129.8 682.9 130.4C685.9 131.0 689.3 132.1 690.6 132.4M514.5 235.3C515.7 234.4 518.8 231.9 521.5 229.9C524.2 227.9 527.8 225.2 530.4 223.3C533.1 221.4 534.8 219.9 537.3 218.3C539.8 216.7 541.8 215.2 545.3 213.4C548.7 211.7 553.7 209.6 558.1 207.6C562.5 205.7 567.6 203.6 571.8 201.9C576.0 200.2 579.7 199.0 583.3 197.4C587.0 195.9 590.6 194.5 593.8 192.8C597.1 191.1 600.0 189.2 602.8 187.1C605.6 185.1 608.3 182.9 610.8 180.5C613.4 178.0 615.9 175.0 618.3 172.3C620.7 169.5 623.0 166.5 625.3 163.8C627.6 161.0 629.7 158.3 631.9 155.8C634.2 153.3 636.3 150.9 639.0 148.8C641.7 146.6 645.0 144.6 648.2 142.9C651.3 141.1 654.8 139.5 657.7 138.3C660.6 137.1 662.9 136.3 665.4 135.6C667.9 135.0 669.9 134.6 672.6 134.7C675.4 134.7 679.0 135.4 681.8 135.9C684.6 136.4 688.1 137.3 689.4 137.6"/>
<path class="w" style="stroke-width:.9;stroke:#333" d="M510.7 230.3C511.8 229.4 515.0 226.9 517.7 224.9C520.4 222.9 524.0 220.2 526.7 218.2C529.4 216.3 531.2 214.8 533.8 213.0C536.4 211.3 538.8 209.7 542.4 207.8C546.0 206.0 551.1 203.8 555.6 201.9C560.1 199.9 565.3 197.8 569.5 196.1C573.7 194.4 577.4 193.1 580.9 191.6C584.5 190.1 587.8 188.9 590.9 187.3C593.9 185.7 596.5 183.9 599.1 182.0C601.7 180.1 604.0 178.2 606.5 175.9C608.9 173.6 611.3 170.9 613.7 168.2C616.1 165.6 618.5 162.7 620.8 160.0C623.2 157.3 625.4 154.5 627.8 152.0C630.3 149.4 632.7 146.8 635.6 144.5C638.6 142.2 642.3 140.1 645.7 138.3C649.0 136.5 652.7 134.9 655.9 133.7C659.0 132.5 661.6 131.6 664.4 131.0C667.2 130.4 669.7 130.0 672.7 130.1C675.8 130.2 679.7 131.1 682.6 131.6C685.6 132.2 689.1 133.3 690.3 133.6M512.0 232.0C513.2 231.1 516.4 228.6 519.0 226.6C521.7 224.6 525.3 222.0 528.0 220.0C530.7 218.0 532.5 216.6 535.0 214.9C537.6 213.2 539.8 211.6 543.4 209.8C547.0 208.0 552.0 205.8 556.5 203.9C560.9 201.9 566.1 199.8 570.3 198.1C574.5 196.4 578.2 195.1 581.8 193.7C585.4 192.2 588.8 190.8 591.9 189.2C595.0 187.6 597.7 185.8 600.4 183.8C603.1 181.9 605.5 179.9 608.0 177.5C610.5 175.1 612.9 172.3 615.3 169.6C617.7 166.9 620.1 164.0 622.4 161.3C624.7 158.6 626.9 155.9 629.3 153.3C631.7 150.8 633.9 148.2 636.8 146.0C639.7 143.8 643.3 141.7 646.5 139.9C649.8 138.1 653.5 136.5 656.5 135.3C659.5 134.1 662.1 133.2 664.8 132.6C667.5 132.0 669.8 131.6 672.7 131.7C675.6 131.8 679.5 132.6 682.4 133.1C685.2 133.7 688.7 134.7 690.0 135.0M513.3 233.7C514.5 232.9 517.7 230.4 520.4 228.4C523.0 226.4 526.7 223.7 529.3 221.8C531.9 219.8 533.7 218.4 536.2 216.7C538.8 215.0 540.9 213.6 544.4 211.8C547.9 210.0 552.9 207.8 557.3 205.9C561.8 204.0 566.9 201.8 571.1 200.1C575.3 198.4 579.0 197.2 582.6 195.7C586.2 194.2 589.7 192.8 592.9 191.1C596.1 189.5 598.9 187.6 601.7 185.6C604.5 183.6 607.0 181.5 609.5 179.1C612.0 176.7 614.5 173.8 616.9 171.0C619.3 168.3 621.7 165.4 624.0 162.6C626.3 159.9 628.4 157.2 630.7 154.7C633.0 152.1 635.2 149.7 638.0 147.5C640.7 145.3 644.2 143.3 647.4 141.5C650.6 139.8 654.2 138.1 657.1 136.9C660.1 135.7 662.5 134.9 665.1 134.2C667.7 133.6 669.8 133.2 672.7 133.3C675.5 133.3 679.2 134.1 682.1 134.6C684.9 135.1 688.4 136.1 689.7 136.4"/>
<path d="M606.0 179.9C607.6 179.0 611.9 176.4 615.3 174.4C618.8 172.4 623.4 169.7 626.9 167.8C630.4 165.9 633.3 164.5 636.3 163.1C639.4 161.7 642.3 160.4 645.0 159.3C647.6 158.1 650.0 157.1 652.5 156.3C654.9 155.4 657.1 154.7 659.6 154.1C662.2 153.6 665.3 153.3 667.7 153.1C670.1 152.9 672.9 152.8 673.9 152.7L674.1 156.5C673.1 156.6 670.4 156.7 668.1 156.9C665.8 157.1 662.8 157.4 660.4 157.9C658.0 158.4 656.0 159.0 653.7 159.8C651.4 160.7 649.1 161.6 646.4 162.7C643.8 163.9 640.9 165.1 638.0 166.5C635.0 167.9 632.2 169.3 628.7 171.2C625.2 173.0 620.7 175.7 617.2 177.7C613.8 179.7 609.5 182.2 608.0 183.1Z" fill="#fff" stroke="none"/><path class="o" style="stroke-width:1.1" d="M606.0 179.9C607.6 179.0 611.9 176.4 615.3 174.4C618.8 172.4 623.4 169.7 626.9 167.8C630.4 165.9 633.3 164.5 636.3 163.1C639.4 161.7 642.3 160.4 645.0 159.3C647.6 158.1 650.0 157.1 652.5 156.3C654.9 155.4 657.1 154.7 659.6 154.1C662.2 153.6 665.3 153.3 667.7 153.1C670.1 152.9 672.9 152.8 673.9 152.7M608.0 183.1C609.5 182.2 613.8 179.7 617.2 177.7C620.7 175.7 625.2 173.0 628.7 171.2C632.2 169.3 635.0 167.9 638.0 166.5C640.9 165.1 643.8 163.9 646.4 162.7C649.1 161.6 651.4 160.7 653.7 159.8C656.0 159.0 658.0 158.4 660.4 157.9C662.8 157.4 665.8 157.1 668.1 156.9C670.4 156.7 673.1 156.6 674.1 156.5"/>
<path class="t" d="M607.0 181.5C610.5 179.5 621.3 172.9 627.8 169.5C634.2 166.1 640.3 163.2 645.7 161.0C651.1 158.8 655.3 157.1 660.0 156.0C664.7 154.9 671.7 154.8 674.0 154.6"/>
<g transform="translate(520 120) scale(.17963)">
<path class="of" d="M372 425L425 390L442 400L445 418L392 452L375 445Z"/><path class="o" d="M392 452L388 432L442 400M388 432L372 425"/>
<path class="of" d="M452 380L490 352L502 362L500 378L465 402Z"/><circle class="o" cx="470" cy="380" r="9"/>
<path class="of" d="M518 305L560 285L572 292L570 305L530 325Z"/><path class="o" d="M530 325L528 312L572 292"/>
<path class="o" d="M320 472C370 485 430 505 470 520L565 555M325 482C375 498 430 520 470 535L560 572"/>
<path class="of" d="M560 565L575 545L600 535L640 560L700 610L718 625L720 645L700 652L640 640L600 610L565 600Z"/>
<path class="o" d="M575 545L585 585L640 615L640 560M585 585L565 600M640 615L640 640M600 535L605 550M660 580L655 640M700 610L700 652"/>
</g>
</g>
<!-- h07 -->
<g id="h07" transform="translate(480 190) scale(.1155)">
<!-- curved thin wires going down-right to ECU bottom -->
<path class="o" d="M430 450C520 500 600 590 680 700C740 790 800 890 900 960L1000 1000M445 445C540 495 620 590 700 700C760 790 815 880 910 945L1000 985" style="stroke-width:1.4"/>
<!-- dark section of bundle -->
<path d="M235 440C270 390 330 320 410 275L430 300L440 400L400 430L300 450Z" fill="#333"/>
<path d="M260 430C300 380 350 340 410 300M280 440C320 395 370 360 425 330M300 445C340 410 380 385 432 365" stroke="#ddd" stroke-width=".8" fill="none" vector-effect="non-scaling-stroke"/>
<!-- white thick wire 1 -->
<path class="of" d="M135 495C200 470 300 435 450 395C520 370 570 335 605 300L625 318C590 355 535 392 460 420C320 460 220 495 150 525Z"/>
<!-- white thick wire 2 -->
<path class="of" d="M150 540C220 510 320 470 430 440C480 450 520 485 570 490C620 495 640 480 640 440L645 395L668 400L665 450C660 500 620 525 565 515C510 505 480 470 430 465C330 495 230 535 160 565Z"/>
<!-- connector block -->
<path class="of" style="stroke-width:1.6" d="M600 300L640 250L700 215L760 175L800 180L820 215L850 250L855 320L770 400L700 445L670 430L660 390L615 375Z"/>
<path class="h" style="stroke-width:1.7" d="M640 250L690 290L740 260L700 215M690 290L700 360L745 335L740 260M745 335L760 400M740 260L820 215M700 360L660 390M760 175L770 200L800 180M770 200L740 225M600 300L650 330L690 290M650 330L660 390M745 335L850 250"/>
<path class="h" style="stroke-width:1.6" d="M410 275L440 260L520 300L540 330L520 350L470 340L430 340Z"/>
<path class="of" d="M440 262L520 300L540 330L600 300L560 270L470 235Z"/>
<path class="o" d="M520 300L560 270M450 300L500 325L470 340M430 300Q450 330 440 360Q470 380 500 350"/>
<!-- clip -->
<path class="of" d="M478 150L495 120L525 115L550 140L545 175L520 200L490 195Z"/>
<path class="o" d="M495 120L505 160L545 175M505 160L490 195M500 130L520 125"/>
<!-- terminals (blades) below -->
<path class="of" d="M250 640L330 560L400 535L430 545L425 575L330 650L270 690Z"/>
<path class="o" d="M280 660L360 590L425 560M330 560L345 590M300 610L380 550M310 650L400 590M270 640L290 665"/>
<path class="o" d="M150 560L120 640M185 555L160 640M215 545L200 620M330 470L250 600M355 470L290 580M375 490L330 560"/>
</g>
<!-- h08 -->
<g id="h08" transform="translate(580 215) scale(.14124)">
<!-- wire loop to ECU connector -->
<path class="o" d="M-12 -75C100 -40 230 20 320 70C370 150 395 230 385 300C370 350 320 380 250 392M-5 -88C110 -52 240 8 332 60C385 140 410 225 400 305C385 362 330 395 255 405"/>
<!-- tube wire to terminals -->
<path class="of" d="M478 132L520 172C580 215 680 255 785 280L780 300C670 275 570 235 508 192L470 150Z"/>
<path class="o" d="M785 285C820 295 850 305 880 325M782 295C815 305 845 320 870 345M800 290L860 300L900 320"/>
<!-- terminals -->
<path class="of" d="M862 350Q870 325 900 330L930 350L955 345Q990 350 1030 375Q1050 395 1040 420Q1020 445 985 435L960 420L935 430Q900 430 880 405Q858 380 862 350Z"/>
<path class="h" style="stroke-width:1.5" d="M885 360Q900 345 920 365Q925 390 905 400M960 375Q985 365 1005 385Q1020 410 995 420Q970 415 960 400M930 350L945 410M880 405L900 380M985 435L975 405"/>
<!-- ECU connector -->
<path class="of" style="stroke-width:1.5" d="M80 290Q85 245 130 232L225 222Q260 230 275 265L285 320Q275 360 240 380L200 400L150 385L110 370Q82 340 80 290Z"/>
<path class="h" style="stroke-width:1.8" d="M130 232Q105 270 112 320L150 385M160 240L165 300L215 320L240 380M165 300L112 320M185 232L195 290M225 222L230 280L275 265M200 340L255 315M180 355L235 340M215 320L205 395"/>
<path d="M165 245L220 238L225 300L170 298Z" fill="#2a2a2a"/>
<ellipse class="of" cx="128" cy="335" rx="22" ry="26"/>
<!-- link to ECU -->
<path class="o" d="M205 398L210 440M232 392L235 435"/>
<!-- thick dark wire bottom-left -->
<path class="h" style="stroke-width:2" d="M-5 595C30 630 60 660 100 678L160 690M-20 640C20 670 60 690 150 700"/>
</g>
<!-- h09 -->
<g id="h09" transform="translate(655 85) scale(.15402)">
<!-- lower white tube running right to the hook -->
<path class="of" d="M120 440C220 445 330 468 430 505C500 515 560 510 610 520C700 545 790 610 909 650L1000 700L990 725L900 675C790 635 700 575 600 545C550 535 500 540 425 530C330 495 220 470 120 465" style="stroke:none"/>
<path class="o" d="M120 440C220 445 330 468 430 505C500 515 560 510 610 520C700 545 790 610 909 650L1000 700L990 725L900 675C790 635 700 575 600 545C550 535 500 540 425 530C330 495 220 470 120 465"/>
<!-- wires cluster under fuse box -->
<path class="o" d="M350 440C400 470 450 500 520 520M345 460C395 495 450 520 515 540M340 480C390 520 450 545 510 555M360 425C410 450 470 470 530 500"/>
<!-- strap plate -->
<path class="of" d="M455 285L485 270L492 400L542 510L522 562L500 522L465 420Z"/>
<path class="o" d="M470 300L478 400L520 520"/>
<!-- dark wires right to grommet -->
<path class="h" style="stroke-width:1.6" d="M410 282C470 277 520 300 570 305C620 305 680 290 725 290M410 303C470 299 520 318 570 323C620 323 680 308 722 308M415 322C470 319 520 337 570 342C620 342 680 329 720 329"/>
<!-- fuse box -->
<path class="of" style="stroke-width:1.4" d="M195 240L380 135Q405 130 420 160L425 240L405 250L405 400L350 425L345 360L300 350L295 285L265 290L260 315L200 300Z"/>
<path class="o" d="M195 240L220 262L400 165L420 160M220 262L225 300M295 285L340 262L345 360M340 262L385 240L390 405M360 230L365 250M265 290L300 272M380 135L400 165"/>
<path class="h" style="stroke-width:1.5" d="M300 350L302 290M350 425L352 300M270 290L272 310"/>
<!-- dark wire loop -->
<path class="h" style="stroke-width:1.7" d="M165 465Q165 390 215 370Q275 355 305 410Q325 460 328 530Q345 585 400 585Q470 575 525 540M182 470Q182 405 222 388Q270 378 292 420Q310 465 312 535Q330 600 400 600Q470 592 528 555"/>
<!-- cylindrical connector -->
<path class="of" style="stroke-width:1.5" d="M112 540Q115 490 150 475L215 470Q245 480 250 520L250 610Q240 650 200 660L150 655Q115 640 112 600Z"/>
<path class="h" style="stroke-width:1.7" d="M150 475Q135 510 138 560L150 655M215 470Q200 500 200 560L200 660M138 560L200 560M160 520L190 520M150 600L165 600L165 625M120 540L135 545M225 500L245 520"/>
<path d="M155 480L200 478L198 515L155 518Z" fill="#2a2a2a"/><path d="M114 545L136 552L148 650Q118 640 113 600Z" fill="#444"/><path d="M202 565L248 540L248 610Q238 648 202 658Z" fill="#555"/>
<!-- tube from top clamp down to grommet -->
<path class="of" d="M815 -30C760 -5 705 50 685 120C675 200 700 270 745 315L775 300C735 260 710 200 720 125C740 60 790 15 835 -5Z"/>
<path class="h" style="stroke-width:1.7" d="M815 -30C760 -5 705 50 685 120C675 200 700 270 745 315M835 -5C790 15 740 60 720 125C710 200 735 260 775 300"/><path class="o" d="M825 -18C775 5 722 55 702 122C692 200 717 265 760 308"/>
<!-- grommet -->
<path class="of" d="M718 340Q720 300 760 295Q805 300 812 340Q810 385 770 395Q725 385 718 340Z"/>
<path class="h" style="stroke-width:1.8" d="M732 345Q740 315 768 315Q795 322 798 345M770 395L778 405"/>
<path class="k" d="M765 388L790 385L786 405L772 408Z"/>
</g>
<!-- h10 -->
<g id="h10" transform="translate(425 255) scale(.11547)">
<!-- thin wires at bottom -->
<path class="o" d="M100 680L215 585M140 702L250 612M-30 640C20 690 70 700 110 690M-30 670C20 720 80 725 130 712"/>
<!-- dark bundle into cluster -->
<path class="h" style="stroke-width:2.2" d="M-40 505C40 500 110 490 170 465L265 415M-40 530C40 525 120 512 180 488L250 455M-40 555C40 552 120 540 190 510L235 480M-40 580C50 575 120 565 200 530"/>
<!-- box 1 -->
<path class="of" d="M200 535L270 470L350 560L285 625Z"/>
<circle class="of" cx="238" cy="512" r="18"/><circle class="o" cx="238" cy="512" r="9"/>
<!-- box 2 -->
<path class="of" d="M300 450L345 410L440 525L385 575Z"/>
<path class="h" style="stroke-width:1.4" d="M330 470L355 450L375 475L350 495ZM350 510L380 485L405 512L375 540ZM420 500L440 525M345 430L360 445"/>
<!-- box 3 dark top -->
<path class="of" d="M260 380L345 310L412 385L330 455Z"/>
<path class="h" style="stroke-width:2.6" d="M258 382L345 308"/>
<path class="h" style="stroke-width:1.5" d="M345 310L412 385M285 400L335 455"/>
<!-- box 4/5 -->
<path class="of" d="M355 292L430 225L470 235L532 300L470 355L425 370Z"/>
<path class="o" d="M400 290L470 235M400 290L455 350M430 225L500 300L425 370"/>
<path class="h" style="stroke-width:1.8" d="M440 340L520 270M455 355L535 285"/>
<!-- box 6 dark bottom -->
<path class="of" d="M465 350L560 270L622 335L530 422Z"/>
<path class="h" style="stroke-width:2.6" d="M532 424L602 362"/>
<!-- box 7 dark top -->
<path class="of" d="M440 170L510 120L562 175L482 238Z"/>
<path d="M445 168L508 124L530 150L470 198Z" fill="#333"/>
<path class="h" style="stroke-width:1.6" d="M440 170L482 238M455 215L430 235L470 280"/>
<!-- box 8 upper right -->
<path class="of" d="M540 135L600 88L660 85L752 150L700 215L715 235L660 290L640 270L600 300L560 250L590 220Z"/>
<path class="o" d="M600 88L700 215M540 135L590 220L640 180L600 135M640 180L690 245L660 290M560 250L600 215L640 270M650 95L665 120L700 100"/>
<path class="h" style="stroke-width:1.5" d="M620 200L660 240M645 215L670 195M690 245L715 235"/>
<!-- wires from box 8 up-right -->
<path class="o" d="M600 88C640 60 700 20 760 -20M625 86C670 55 720 25 790 -20M650 90C700 60 750 35 830 -10M680 100C730 75 790 50 870 20M720 125C770 100 820 85 880 70"/>
<path class="h" style="stroke-width:1.5" d="M560 120C600 80 640 40 690 -20M700 110C760 80 820 60 880 45"/>
</g>
<!-- h11 -->
<g id="h11">
<!-- cable tie loop -->
<ellipse class="of" cx="386" cy="452.5" rx="17.5" ry="5.6" transform="rotate(42 386 452.5)" style="fill:none"/>
<ellipse class="o" cx="386" cy="452.5" rx="15.8" ry="4.2" transform="rotate(42 386 452.5)"/>
<!-- upper clamp near 14: tab + bolt -->
<path class="of" d="M355.2 426L358 422.5L362 422L364.5 425L362.5 430.5L357 431.5Z"/>
<path class="of" d="M380.5 427.5L385 425.5L389 428L388 433L383 435.5L380 432Z"/>
<path class="h" style="stroke-width:3.4" d="M387 430.5L395 435.5"/>
<path class="o" d="M362 426L381 431"/>
<!-- clamp 14 top strap -->
<path class="of" d="M342.7 448.8L346.3 445.4L359.2 453.2L357.3 456.2Z"/>
<path class="of" d="M357.3 453L362 451L370.5 455L371.5 460.5L366 464.5L359.5 462Z"/>
<path class="o" d="M362 455.5L368 458.5L367 462.5M362 455.5L360 460"/>
<path class="h" style="stroke-width:1.6" d="M342.7 448.8L346.3 445.4"/>
<!-- clamp 14 left strap -->
<path class="of" d="M299 533.5L302 530.5L306 532L320 538.5L319 542.5L303 537.5Z"/>
<path class="of" d="M319 538.5L324 537L327.5 539.5L326.5 544L321 545.5Z"/>
<path class="h" style="stroke-width:3" d="M326 541L332 545"/>
<path class="o" d="M299 533.5Q298 537 301 538.5"/>
<!-- small tie on branch 2 -->
<path class="of" d="M382 466L392.5 461.5L394 464L384 469Z"/>
<!-- clamp at 11 line -->
<path class="of" d="M394 311.5L397.5 309.5Q404 314 409 321L414 327.5L411 329.5Q405 321 398 316Z"/>
<path class="o" d="M392 309L396 307.5L397.5 309.5M392 309L394 311.5"/>
<circle class="of" cx="412.5" cy="331.3" r="4.2" style="stroke-width:1.4"/>
<circle class="h" cx="413" cy="331.8" r="2" style="stroke-width:1.6"/>
<path class="h" style="stroke-width:2" d="M415.5 333L419 335"/>
<path class="o" d="M418 328.5Q424 330 428 335.5Q434 340 442 338M416 336Q422 341 430 341.5Q438 342 444 340"/>
</g>
<!-- p02 -->
<g id="p02">
<!-- cable -->
<path d="M270.5 568.5L361.5 675.5L357.5 684L265 577Z" fill="#fff"/>
<path class="o" d="M271.2 569.6L361.8 676.3M265 576.5L357.3 684.6M268.3 572.8L359.5 680.5" style="stroke-width:1"/>
<!-- connector (zoom coords) -->
<g transform="translate(225 535) scale(.07698)">
<path class="of" d="M135 480L150 380L175 315L245 300L330 420L300 490L190 520Z"/>
<path class="h" d="M175 330L235 318L310 410M160 400L215 385L265 470M190 420L175 500M235 400L222 490" style="stroke-width:1.4"/>
<path class="of" d="M205 240L300 132L400 120L500 240L395 348L600 452L520 535L455 560L380 578L330 470L300 350Z"/>
<path class="o" d="M205 240L300 350L395 348M300 350L330 230L400 120M330 230L240 190M370 190L440 175L470 260L400 290ZM395 348L455 560M430 330L560 470M460 310L590 440M330 470L380 455L455 560"/>
<path class="h" d="M380 200L430 270M395 195L445 262M205 240L225 262" style="stroke-width:1.5"/>
</g>
<!-- sensor body (zoom coords) -->
<g transform="translate(340 660) scale(.10267)">
<path class="of" d="M215 225L262 255L322 292L440 425L492 480L500 545L560 615L562 650L525 672L490 655L432 585L375 575L325 515L215 360L195 300Z"/>
<path class="h" d="M200 300L265 248M208 325L290 262M215 350L320 285" style="stroke-width:1.5"/>
<path class="o" d="M262 395L365 330M280 420L385 355M298 445L402 378M315 468L420 400M330 490L438 422"/>
<path class="h" d="M325 515L440 425L492 480L500 545L432 585L375 575ZM405 500L455 465L462 530L415 560Z" style="stroke-width:1.5"/>
<path class="o" d="M432 585L470 560L500 545M470 560L540 640M490 655L520 620L560 615M500 640L535 655"/>
</g>
</g>
<!-- p03 -->
<g id="p03a" transform="translate(420 360) scale(.21825)">
<!-- part 10 strip -->
<path class="of" d="M265 370L530 125L550 140L285 390Z"/>
<path class="o" d="M272 377L538 131"/>
<!-- bracket lower arm -->
<path class="of" d="M140 510L160 515L215 545L235 540L212 500Q205 470 240 447L275 442L300 462L312 452L305 420L335 393L355 410L540 240L630 170L680 120L880 -5L960 -20L1010 20L1008 50L930 75L870 95L760 180L700 260L600 380L445 487L440 500L410 515L405 527L300 575L216 620L171 646Q150 660 120 658Q85 650 70 625Q58 595 76 564Q95 538 138 512Z"/>
<path class="o" d="M140 515L195 620M155 515L212 618" style="stroke-width:1.4"/>
<path class="o" d="M300 462L325 440L355 410M325 440L305 420M608 185L603 375M625 178L622 355M630 170Q660 175 700 150L790 115L900 60L930 75M680 122L760 96L752 108L690 128Z"/>
<path class="o" d="M230 490Q228 465 255 458Q282 458 280 478Q275 500 250 505Q232 505 230 490Z"/>
<circle class="o" cx="243" cy="488" r="7"/><circle class="o" cx="266" cy="466" r="5"/>
<ellipse class="o" cx="105" cy="582" rx="11" ry="9" transform="rotate(-30 105 582)"/>
<!-- small sensor box + wire -->
<path class="of" d="M410 598Q445 620 440 650Q430 690 395 715L365 745L372 752L405 722Q445 690 452 650Q455 615 418 590Z"/>
<path class="of" d="M310 625L385 588L408 600L410 622L335 658L312 645Z"/>
<path class="o" d="M312 645L388 608L385 588M388 608L410 622"/>
<path class="h" d="M400 592L415 600" style="stroke-width:2.2"/>
</g>
<g id="p03b" transform="translate(540 250) scale(.19253)">
<!-- rubber mount under bar -->
<path class="of" d="M650 480Q645 510 690 505Q740 500 765 450L770 410Z"/>
<circle class="o" cx="720" cy="458" r="17"/><circle class="o" cx="720" cy="458" r="8"/>
<!-- upright tab -->
<path class="of" d="M628 335L620 230Q628 172 690 147L735 140Q748 145 748 170L750 268L640 345Z"/>
<path class="o" d="M640 340L632 235Q640 185 695 160"/>
<path class="o" d="M668 195L690 178L720 180L728 205L708 232L678 230Z"/>
<circle class="o" cx="699" cy="207" r="14"/><circle class="o" cx="699" cy="207" r="7"/>
<!-- main bar -->
<path class="of" d="M430 540L555 417L640 337L775 270L800 292L800 380L770 410L650 485L520 560L445 600Z"/>
<path class="o" d="M445 560L560 450L650 372L795 294M560 440L650 362L785 285"/>
<!-- small tab rounded -->
<path class="of" d="M450 522L460 472Q470 450 530 425Q555 425 552 450L548 480L470 532Z"/>
<ellipse class="o" cx="502" cy="478" rx="8" ry="6" transform="rotate(-35 502 478)"/>
<path class="o" d="M440 535L465 525L470 545"/>
<!-- square plate with nut -->
<path class="of" d="M420 572L510 530L520 560L525 640L430 682Z"/>
<path class="o" d="M430 580L512 542"/>
<path class="o" d="M458 585L480 566L508 570L515 596L495 620L466 615Z"/>
<circle class="o" cx="486" cy="594" r="15"/><circle class="o" cx="486" cy="594" r="8"/>
<!-- arm going lower-left -->
<path class="o" d="M150 710L280 642L400 600L422 598M430 682L380 660L330 680L200 740L100 779"/>
</g>
<!-- p05 -->
<g id="p05" transform="translate(540 250) scale(.19253)">
<!-- ECU box -->
<path class="of" d="M285 160Q285 140 305 138L350 120L425 150L545 225L555 240L555 350L495 400L480 400L288 285Z" style="stroke-width:1.4"/>
<path class="o" d="M305 138L495 250Q502 255 500 270L495 400M500 255L545 225M318 130L335 150L395 180L400 158L425 150M350 120L345 140L380 155M492 262L488 390"/>
<!-- relay -->
<path class="of" d="M35 435L125 378L150 384L255 392L260 398L262 490L130 575L40 520Z" style="stroke-width:1.3"/>
<path class="o" d="M35 435L135 470L258 395M135 470L130 575M125 378L140 392L150 384"/>
<path class="of" d="M238 448L268 452L268 466L238 462Z"/>
<!-- relay terminals -->
<path class="of" d="M0 510L45 485L75 495L75 510L30 535L0 525ZM50 540L95 515L118 525L118 545L75 570L50 560ZM60 500L100 480L110 486L110 510L75 525Z"/>
<path class="o" d="M0 510L30 520L75 495M30 520L30 535M50 540L78 552L118 525M78 552L75 570M40 465L70 478L70 500M55 530L55 575L90 590L130 575"/>
</g>
<!-- p06 -->
<g id="p06">
<path class="of" d="M565.8 107.4L583.6 117.5L588 159.5L570 149.6Z"/>
<path class="o" d="M569.3 111.8L572 146.5M572.3 116.5L580.4 121L583.5 154"/>
<path class="t" d="M575.5 122.5L578 150"/>
<path class="of" d="M583.8 124.5L584.6 117L587 112L592 104.5L623.3 83.8L627 82L609.5 72.7L603.5 73.5L595.4 79.3L594 88L581 89.6L573 94.6L566 106L565.8 107.4L583.6 117.5Z"/>
<path class="of" style="stroke-width:1" d="M584.2 122.0L566.4 112.5L566.6 106.9L584.7 119.5Z"/><path class="h" style="stroke-width:1.5" d="M566.6 106.9L584.7 119.5"/>
<path class="of" style="stroke-width:1" d="M586.0 113.9L568.9 104.8L569.1 99.2L586.5 111.4Z"/><path class="h" style="stroke-width:1.5" d="M569.1 99.2L586.5 111.4"/>
<path class="of" style="stroke-width:1" d="M590.0 105.8L572.9 96.7L573.1 91.1L590.5 103.3Z"/><path class="h" style="stroke-width:1.5" d="M573.1 91.1L590.5 103.3"/>
<path class="of" style="stroke-width:1" d="M595.5 101.2L577.6 91.7L577.9 86.1L596.0 98.7Z"/><path class="h" style="stroke-width:1.5" d="M577.9 86.1L596.0 98.7"/>
<path class="of" style="stroke-width:1" d="M601.0 97.6L582.1 87.6L582.4 82.0L601.5 95.1Z"/><path class="h" style="stroke-width:1.5" d="M582.4 82.0L601.5 95.1"/>
<path class="of" d="M601 97.6L611 91.2L603.5 87L594.5 92.5L595 96.5Z"/>
<path class="t" d="M603.5 87L603.8 92L595 96.5M603.8 92L609 94.5"/>
<path class="of" style="stroke-width:1" d="M612.5 90.5L595.0 81.2L595.3 76.0L613.0 88.2Z"/><path class="h" style="stroke-width:1.9" d="M595.3 76.0L613.0 88.2"/>
<path class="of" style="stroke-width:1" d="M616.1 88.2L598.6 78.9L598.9 73.7L616.6 85.9Z"/><path class="h" style="stroke-width:1.9" d="M598.9 73.7L616.6 85.9"/>
<path class="of" style="stroke-width:1" d="M619.7 86.0L602.2 76.7L602.5 71.5L620.2 83.7Z"/><path class="h" style="stroke-width:1.9" d="M602.5 71.5L620.2 83.7"/>
<path class="of" style="stroke-width:1" d="M623.3 83.8L605.8 74.5L606.1 69.3L623.8 81.5Z"/><path class="h" style="stroke-width:1.9" d="M606.1 69.3L623.8 81.5"/>
<path class="of" style="stroke-width:1" d="M627.2 82.8L609.7 73.5L610.0 68.3L627.7 80.5Z"/><path class="h" style="stroke-width:1.9" d="M610.0 68.3L627.7 80.5"/>
<path class="of" style="stroke-width:1.45" d="M583.8 124.5L584.6 117.2Q585.6 113.5 587.4 111L592 104.3L623.3 83.8L630.9 86.1L634.6 131L635 133.4L595 163.8L588 159.5Z"/>
<ellipse class="of" cx="606.6" cy="99.9" rx="1.9" ry="2.8" transform="rotate(15 606.6 99.9)"/>
<ellipse class="of" cx="611.2" cy="146.3" rx="1.9" ry="2.8" transform="rotate(15 611.2 146.3)"/>
</g>
<!-- p06b -->
<g id="p06b" transform="translate(490 110) scale(.12837)">
<!-- wires regulator to connector -->
<path class="t" d="M600 232L640 200L690 165M602 245L650 215L692 190M604 262L650 240L694 228M606 278L655 262L694 255M606 292L650 280L690 278M606 300L640 300L660 290"/>
<!-- upper connector: box -->
<path class="of" d="M352 215L400 160L480 136L600 225L606 330L520 392L468 397L438 338L420 250Z"/>
<path class="o" d="M400 160L505 262L520 390M505 262L600 225M352 215L372 228L470 395M372 228L420 178L505 262M560 215L572 352M480 136L490 160"/>
<path class="t" d="M470 205L540 250L548 370M430 188L450 175"/>
<!-- cylinder -->
<path class="of" d="M335 275L418 236L440 332L352 366Z"/>
<ellipse class="of" cx="335" cy="320" rx="36" ry="46" transform="rotate(-12 335 320)"/>
<ellipse class="t" cx="337" cy="320" rx="28" ry="38" transform="rotate(-12 337 320)"/>
<!-- wires between connectors -->
<path class="o" d="M440 352C400 380 350 420 345 490M455 360C420 395 370 430 362 500M470 396C480 470 450 540 385 548M430 350C380 400 395 450 350 470"/>
<!-- lower connector -->
<path class="of" d="M82 558L240 465L380 548L386 600L250 712L232 715L88 625Z"/>
<path class="o" d="M82 558L245 650L250 712M245 650L380 548M100 568L232 645L236 700L104 622ZM120 545L185 505L300 570L240 610M150 545L215 585M150 545L150 560L200 590M185 540L215 555L205 575"/>
<path class="t" d="M300 570L388 560M310 585L386 572M318 600L386 585M325 615L380 600M335 625L370 615M300 570L305 660M320 590L322 650M340 600L342 635"/>
</g>
<!-- p07 -->
<g id="p07" transform="translate(730 170) scale(.15402)">
<path class="of" d="M517 48Q528 36 540 48L545 130Q600 150 600 180Q595 230 548 255L528 252L522 230Z"/>
<path class="o" d="M540 48L548 235Q580 215 585 182Q580 160 546 148M528 250L520 60"/>
<path class="of" style="stroke-width:1.4" d="M88 205L100 160L165 112L215 125L260 135L290 115L385 165L385 180L350 190L355 205L455 260L510 300L515 600L380 675L100 510Z"/>
<path class="o" d="M100 160L370 320L455 260M370 320L375 372M88 205L370 370L510 300M95 216L368 382L380 675M368 382L505 312M165 112L172 85L215 100L215 125M172 85L165 95M215 100L240 120L232 132"/>
<path d="M385 425L510 355L512 598L390 665Z" fill="#333"/>
<path d="M402 423L404 652M424 411L426 640M446 398L448 628M468 386L470 616M490 374L492 604" stroke="#ddd" stroke-width="1" fill="none" vector-effect="non-scaling-stroke"/>
<path class="h" style="stroke-width:2" d="M360 195L440 240L470 250L500 285L505 330L490 360M445 245L455 290L485 300M470 320L500 340L495 380"/>
<circle class="of" cx="462" cy="248" r="9"/><circle class="of" cx="498" cy="300" r="9"/><circle class="of" cx="497" cy="350" r="8"/>
<path class="h" d="M210 115L240 125" style="stroke-width:2.5"/>
</g>
<!-- p11 -->
<g id="p11">
<ellipse class="of" cx="412.9" cy="206.5" rx="3.6" ry="6.4" transform="rotate(24.7 412.9 206.5)"/><ellipse class="of" cx="410.7" cy="205.5" rx="3.2" ry="5.2" transform="rotate(24.7 410.7 205.5)" style="stroke-width:1.3"/><path class="of" d="M414.3 204.2L422.9 208.1A1.5 2.7 24.7 0 1 420.7 213.1L412.0 209.1"/><ellipse class="o" cx="413.2" cy="206.6" rx="1.3" ry="2.7" transform="rotate(24.7 413.2 206.6)"/>
<ellipse class="of" cx="416.3" cy="234.7" rx="3.6" ry="6.4" transform="rotate(25.4 416.3 234.7)"/><ellipse class="of" cx="414.1" cy="233.7" rx="3.2" ry="5.2" transform="rotate(25.4 414.1 233.7)" style="stroke-width:1.3"/><path class="of" d="M417.7 232.4L426.7 236.7A1.5 2.7 25.4 0 1 424.3 241.5L415.4 237.3"/><ellipse class="o" cx="416.6" cy="234.8" rx="1.3" ry="2.7" transform="rotate(25.4 416.6 234.8)"/>
<ellipse class="of" cx="346.2" cy="282.1" rx="3.6" ry="6.4" transform="rotate(27.7 346.2 282.1)"/><ellipse class="of" cx="344.0" cy="280.9" rx="3.2" ry="5.2" transform="rotate(27.7 344.0 280.9)" style="stroke-width:1.3"/><path class="of" d="M347.7 279.8L356.7 284.5A1.5 2.7 27.7 0 1 354.1 289.3L345.2 284.6"/><ellipse class="o" cx="346.4" cy="282.2" rx="1.3" ry="2.7" transform="rotate(27.7 346.4 282.2)"/>
<path class="ld" d="M348.8 203.5L408.6 200.5M348.8 203.5L410 232.2M345.2 204.5L346.3 275"/>
</g>
<!-- p12 -->
<g id="p12">
<path class="of" d="M532.7 52.0L536.9 54.7L532.5 61.7L528.3 59.0Z"/><path class="t" d="M531.2 54.4L535.4 57.1"/><path class="t" d="M529.5 57.0L533.8 59.7"/><path class="of" d="M537.5 53.8L538.9 54.6L533.3 63.4L531.9 62.6Z"/><path class="of" d="M537.5 56.8L549.5 64.5L549.9 65.8L548.1 68.6L546.8 68.9L534.7 61.2"/>
<path class="of" d="M536.6 99.5L540.7 102.3L536.5 108.4L532.4 105.5Z"/><path class="t" d="M535.1 101.6L539.3 104.4"/><path class="t" d="M533.6 103.8L537.7 106.7"/><path class="of" d="M541.2 101.5L542.5 102.4L537.3 110.0L536.0 109.1Z"/><path class="of" d="M541.2 104.4L553.9 113.1L554.2 114.5L552.8 116.5L551.4 116.8L538.7 108.0"/>
</g>
<!-- p17 -->
<g id="p17">
<path class="of" d="M116.6 62.6L180.7 98.9L173.9 110.9L109.8 74.6A3.4 6.9 29.5 0 1 116.6 62.6Z"/>
<ellipse class="of" cx="177.3" cy="104.9" rx="3.4" ry="6.9" transform="rotate(29.5 177.3 104.9)"/>
<ellipse class="t" cx="177.3" cy="104.9" rx="2.1" ry="5.3" transform="rotate(29.5 177.3 104.9)"/>
<path class="o" style="stroke-width:1" d="M122.6 66.0A3.4 6.9 29.5 0 0 115.8 78.0M128.7 69.4A3.4 6.9 29.5 0 0 121.9 81.5M134.7 72.9A3.4 6.9 29.5 0 0 127.9 84.9M140.8 76.3A3.4 6.9 29.5 0 0 134.0 88.3M146.8 79.7A3.4 6.9 29.5 0 0 140.0 91.7M152.9 83.1A3.4 6.9 29.5 0 0 146.1 95.2M158.9 86.6A3.4 6.9 29.5 0 0 152.1 98.6M165.0 90.0A3.4 6.9 29.5 0 0 158.2 102.0M171.0 93.4A3.4 6.9 29.5 0 0 164.2 105.4M177.1 96.8A3.4 6.9 29.5 0 0 170.3 108.8"/>
<path class="t" d="M117.6 63.2A3.4 6.9 29.5 0 0 110.8 75.2"/>
<path class="t" d="M110.5 73.4L174.6 109.7"/>
</g>


<!--DASH-->
<g id="dashes">
<path class="dd" d="M549 67.3L601 96.5M612 102.8L700 152"/>
<path class="ld" d="M553.5 115.8L566 122"/>
<!-- 11 bolts lines -->
<path class="dd" d="M423.3 212.3L630.5 335"/>
<path class="dd" d="M426.3 239.6L586 332.5M592 341L618 351"/>
<path class="dd" d="M356.2 287.6L394 311M419.4 331.6L515 381.8L429.8 433.1L498.6 477.9"/>
<!-- box around 10 -->
<!-- ECU box guide -->
<path class="ld" d="M652 274.5L663 284"/>
<!-- battery guides -->
<path class="dd" d="M700 152L751 182.5L652 274.5M810 219.5L851 185"/>
<path class="dd" d="M720.4 442V456"/>
</g>

<!--LABELS-->
<g class="lbl">
<text x="126.6" y="158">17</text>
<text x="478.4" y="52">12</text>
<text x="664" y="82.4">6</text>
<text x="827" y="56.6">13</text>
<text x="912.5" y="110.2">13</text>
<text x="780.8" y="128">10</text>
<text x="853" y="159.8">8</text>
<text x="326.8" y="206.8">11</text>
<text x="566.8" y="272.4">5</text>
<text x="516.6" y="325.7">4</text>
<text x="757.6" y="305.5">7</text>
<text x="739.2" y="378.7">15</text>
<text x="894" y="285.9">13</text>
<text x="447.2" y="391">10</text>
<text x="607.8" y="441.6">3</text>
<text x="761.4" y="438.6">9</text>
<text x="756.4" y="487.8">16</text>
<text x="235.2" y="436.6">1</text>
<text x="298.4" y="434.1">14</text>
<text x="247" y="518.3">14</text>
<text x="168.6" y="515.6">2</text>
<text x="453.2" y="522.2">14</text>
</g>
</svg>
</body>
</html>
